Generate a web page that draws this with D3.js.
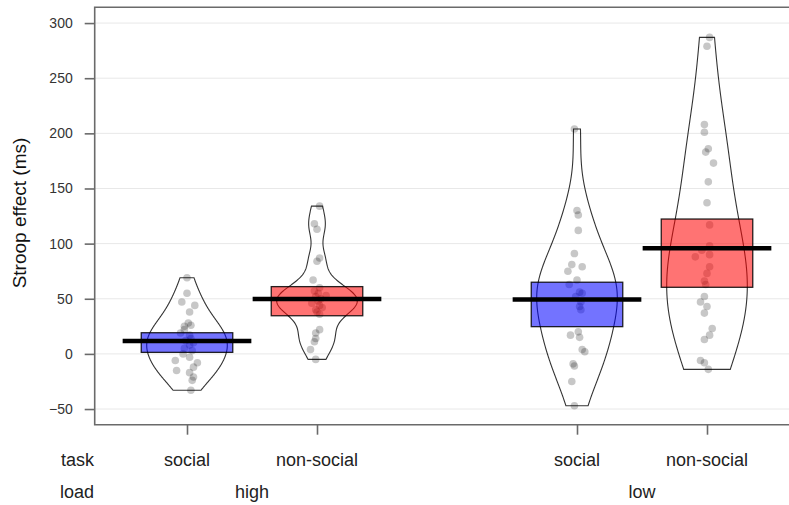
<!DOCTYPE html>
<html><head><meta charset="utf-8">
<script src="https://cdn.jsdelivr.net/npm/d3@7"></script>
<style>
body{margin:0;background:#fff}
svg{display:block}
text{font-family:"Liberation Sans", Arial, Helvetica, sans-serif}
</style>
</head><body>
<svg id="chart" width="789" height="505"></svg>
<script>
// ---- data ----
const taskLabels = ["social", "non-social", "social", "non-social"];
const loadLabels = ["high", "low"];
const positions = [1, 2, 4, 5];
const yTicks = [300, 250, 200, 150, 100, 50, 0, -50];
const groupColors = ["#0000ff", "#ff0000", "#0000ff", "#ff0000"];
const means = [11.8, 49.8, 49.3, 95.8];
const infLow = [1.4, 34.6, 24.7, 60.4];
const infHigh = [19.2, 61.0, 65.0, 122.3];

const valsHighSocial = [69, 55, 47, 44, 38, 28, 26, 25, 22, 19, 17, 14, 12, 10, 8, 5, 3, 0, -3, -6, -8, -12, -15, -17, -21, -24, -33];
const jitHighSocial = [0, 0, -0.04, 0.06, 0.02, 0.01, 0.03, -0.02, -0.02, -0.05, 0.02, 0.03, -0.01, 0.05, 0.02, -0.02, 0.04, -0.03, 0.02, -0.09, 0.08, 0.05, -0.08, 0.02, 0.05, 0.04, 0.03];
const valsHighNonSocial = [134, 118, 113, 87, 84, 67, 60, 57, 55, 53, 52, 50, 48, 46, 44, 42, 40, 38, 36, 22, 19, 14, 11, 4, -5];
const jitHighNonSocial = [0.02, -0.02, 0, 0.02, 0, -0.03, 0.02, -0.02, 0.01, 0.07, -0.01, 0.03, 0.01, -0.04, 0.02, 0.04, -0.01, 0, 0.02, 0.02, -0.01, -0.01, -0.02, -0.05, -0.01];
const valsLowSocial = [204, 130, 126, 112, 91, 81, 79, 75, 67, 63, 56, 55, 52, 47, 43, 40, 20, 17, 15, 4, 2, -9, -11, -25, -47];
const jitLowSocial = [-0.02, 0, 0.01, 0.01, -0.02, -0.04, 0.04, -0.07, 0, -0.06, 0.02, 0.04, -0.01, 0.03, 0.02, 0.03, 0.01, -0.05, 0.02, 0.04, 0.06, -0.03, -0.02, -0.04, -0.02];
const valsLowNonSocial = [287, 279, 208, 201, 186, 183, 173, 156, 137, 117, 98, 94, 90, 88, 79, 73, 66, 63, 52, 47, 43, 37, 23, 17, 13, -6, -8, -14];
const jitLowNonSocial = [0.02, 0, -0.02, -0.02, 0.01, -0.01, 0.05, 0.01, 0, 0.02, 0.02, -0.04, 0.02, -0.09, 0.02, 0, -0.02, -0.01, -0.02, -0.05, 0, -0.02, 0.04, 0.02, -0.02, -0.05, -0.02, 0.01];

const groupVals = [valsHighSocial, valsHighNonSocial, valsLowSocial, valsLowNonSocial];
const groupJit = [jitHighSocial, jitHighNonSocial, jitLowSocial, jitLowNonSocial];

// ---- layout ----
const svg = d3.select("#chart");
const plotLeft = 94.7, plotTop = 7.3, plotBottom = 424.7, plotRight = 798;
const x = d3.scaleLinear().domain([0.29, 5.70]).range([plotLeft, plotRight]);
const y = d3.scaleLinear().domain([-64.2, 314.3]).range([plotBottom, plotTop]);

const beanHalf = 0.31, boxHalf = 0.352, lineHalf = 0.495, bwAdjust = 1.3;

// gridlines
svg.append("g").selectAll("line").data(yTicks).join("line")
  .attr("x1", plotLeft).attr("x2", plotRight)
  .attr("y1", d => y(d)).attr("y2", d => y(d))
  .attr("stroke", "#e8e8e8").attr("stroke-width", 1);

// KDE (gaussian, R nrd0 bandwidth)
function bwNrd0(arr) {
  const s = d3.deviation(arr);
  const sorted = arr.slice().sort(d3.ascending);
  const iqr = d3.quantile(sorted, 0.75) - d3.quantile(sorted, 0.25);
  let lo = Math.min(s, iqr / 1.34);
  if (!(lo > 0)) lo = s || 1;
  return 0.9 * lo * Math.pow(arr.length, -0.2);
}
function kde(arr) {
  const bw = bwNrd0(arr) * bwAdjust;
  const [mn, mx] = d3.extent(arr);
  const grid = d3.range(0, 201).map(i => mn + (mx - mn) * i / 200);
  return grid.map(v => ({v, d: d3.sum(arr, xi => Math.exp(-0.5 * ((v - xi) / bw) ** 2))}));
}

const gBeans = svg.append("g");
groupVals.forEach((vals, i) => {
  const p = positions[i];
  const dens = kde(vals);
  const dmax = d3.max(dens, e => e.d);
  const area = d3.area()
    .y(e => y(e.v))
    .x0(e => x(p - beanHalf * e.d / dmax))
    .x1(e => x(p + beanHalf * e.d / dmax))
    .curve(d3.curveLinear);
  gBeans.append("path").attr("d", area(dens))
    .attr("fill", "none").attr("stroke", "#000").attr("stroke-opacity", 0.8).attr("stroke-width", 1.1);
});

// points
const gPts = svg.append("g");
groupVals.forEach((vals, i) => {
  const p = positions[i];
  gPts.selectAll(null).data(vals.map((v, j) => ({v, j: groupJit[i][j]}))).join("circle")
    .attr("cx", d => x(p + d.j)).attr("cy", d => y(d.v)).attr("r", 3.8)
    .attr("fill", "#000").attr("fill-opacity", 0.22);
});

// inference boxes
svg.append("g").selectAll("rect").data(positions).join("rect")
  .attr("x", (p) => x(p - boxHalf))
  .attr("width", (p) => x(p + boxHalf) - x(p - boxHalf))
  .attr("y", (p, i) => y(infHigh[i]))
  .attr("height", (p, i) => y(infLow[i]) - y(infHigh[i]))
  .attr("fill", (p, i) => groupColors[i]).attr("fill-opacity", 0.55)
  .attr("stroke", "#000").attr("stroke-opacity", 0.85).attr("stroke-width", 1.3);

// average lines
svg.append("g").selectAll("line").data(positions).join("line")
  .attr("x1", p => x(p - lineHalf)).attr("x2", p => x(p + lineHalf))
  .attr("y1", (p, i) => y(means[i])).attr("y2", (p, i) => y(means[i]))
  .attr("stroke", "#000").attr("stroke-width", 4.5);

// frame
svg.append("path")
  .attr("d", `M${plotRight},${plotTop}H${plotLeft}V${plotBottom}H${plotRight}`)
  .attr("fill", "none").attr("stroke", "#6a6a6a").attr("stroke-width", 1.6);

// y axis
const yAxis = svg.append("g").attr("transform", `translate(${plotLeft},0)`)
  .call(d3.axisLeft(y).tickValues(yTicks).tickSize(10).tickPadding(12).tickFormat(d3.format("d")));
yAxis.select(".domain").remove();
yAxis.selectAll(".tick line").attr("stroke", "#6a6a6a").attr("stroke-width", 1.6);
yAxis.selectAll(".tick text").attr("font-size", 14).attr("fill", "#333")
  .attr("font-family", '"Liberation Sans", Arial, sans-serif');

// x axis ticks
const xAxis = svg.append("g").attr("transform", `translate(0,${plotBottom})`)
  .call(d3.axisBottom(x).tickValues(positions).tickSize(10).tickFormat(""));
xAxis.select(".domain").remove();
xAxis.selectAll(".tick line").attr("stroke", "#6a6a6a").attr("stroke-width", 1.6);

// task labels
svg.append("g").selectAll("text").data(taskLabels).join("text")
  .attr("x", (d, i) => x(positions[i])).attr("y", 466)
  .attr("text-anchor", "middle").attr("font-size", 18).attr("fill", "#222").text(d => d);
// load labels
svg.append("g").selectAll("text").data(loadLabels).join("text")
  .attr("x", (d, i) => x((positions[2 * i] + positions[2 * i + 1]) / 2)).attr("y", 498)
  .attr("text-anchor", "middle").attr("font-size", 18).attr("fill", "#222").text(d => d);
// row names
svg.append("text").attr("x", 94).attr("y", 466).attr("text-anchor", "end")
  .attr("font-size", 18).attr("fill", "#222").text("task");
svg.append("text").attr("x", 94).attr("y", 498).attr("text-anchor", "end")
  .attr("font-size", 18).attr("fill", "#222").text("load");

// y label
svg.append("text").attr("transform", `translate(26,${(plotTop + plotBottom) / 2 - 3}) rotate(-90)`)
  .attr("text-anchor", "middle").attr("font-size", 19).attr("fill", "#111").text("Stroop effect (ms)");
</script>
</body></html>
